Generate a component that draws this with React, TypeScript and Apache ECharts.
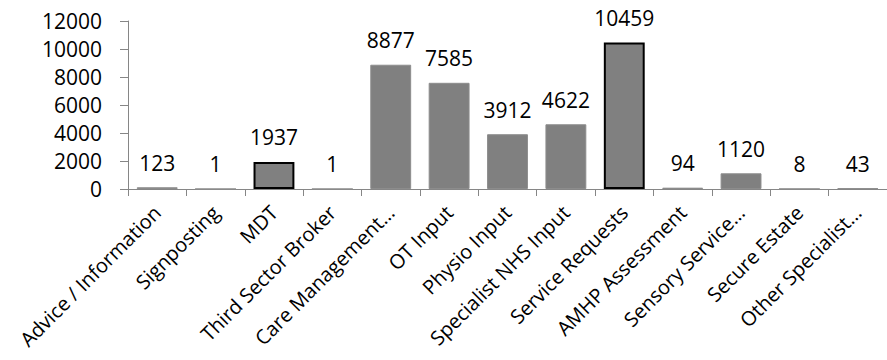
import React, { useEffect, useRef } from "react";
import * as echarts from "echarts";

const categories = [
  "Advice / Information",
  "Signposting",
  "MDT",
  "Third Sector Broker",
  "Care Management…",
  "OT Input",
  "Physio Input",
  "Specialist NHS Input",
  "Service Requests",
  "AMHP Assessment",
  "Sensory Service…",
  "Secure Estate",
  "Other Specialist…",
];
const values = [123, 1, 1937, 1, 8877, 7585, 3912, 4622, 10459, 94, 1120, 8, 43];
const highlighted = [2, 8];
const yTicks = { min: 0, max: 12000, interval: 2000 };

const FONT = "Open Sans";

export default function App() {
  const ref = useRef<HTMLDivElement>(null);
  useEffect(() => {
    if (!ref.current) return;
    const chart = echarts.init(ref.current, null, { renderer: "svg" });
    chart.setOption({
      animation: false,
      grid: { left: 128, top: 21, bottom: 171, right: -5, containLabel: false },
      xAxis: {
        type: "category",
        data: categories,
        axisLine: { lineStyle: { color: "#868686", width: 1 } },
        axisTick: { show: true, length: 7, lineStyle: { color: "#868686" } },
        axisLabel: {
          rotate: 45,
          interval: 0,
          margin: 20,
          fontFamily: FONT,
          fontSize: 20,
          color: "#000",
        },
      },
      yAxis: {
        type: "value",
        min: yTicks.min,
        max: yTicks.max,
        interval: yTicks.interval,
        splitLine: { show: false },
        axisLine: { show: true, lineStyle: { color: "#868686", width: 1 } },
        axisTick: { show: true, length: 8, lineStyle: { color: "#868686" } },
        axisLabel: {
          margin: 26,
          fontFamily: FONT,
          fontSize: 21,
          color: "#000",
          formatter: (v: number) => String(v),
        },
      },
      series: [
        {
          type: "bar",
          barCategoryGap: "30%",
          data: values.map((v, i) => ({
            value: v,
            itemStyle: highlighted.includes(i)
              ? { color: "#808080", borderColor: "#000", borderWidth: 2 }
              : { color: "#808080", borderColor: "#8c8c8c", borderWidth: 1 },
          })),
          label: {
            show: true,
            position: "top",
            distance: 14,
            fontFamily: FONT,
            fontSize: 21,
            color: "#000",
          },
        },
      ],
    });
    return () => chart.dispose();
  }, []);
  return <div ref={ref} style={{ width: 887, height: 360, position: "absolute", left: 0, top: 0 }} />;
}
